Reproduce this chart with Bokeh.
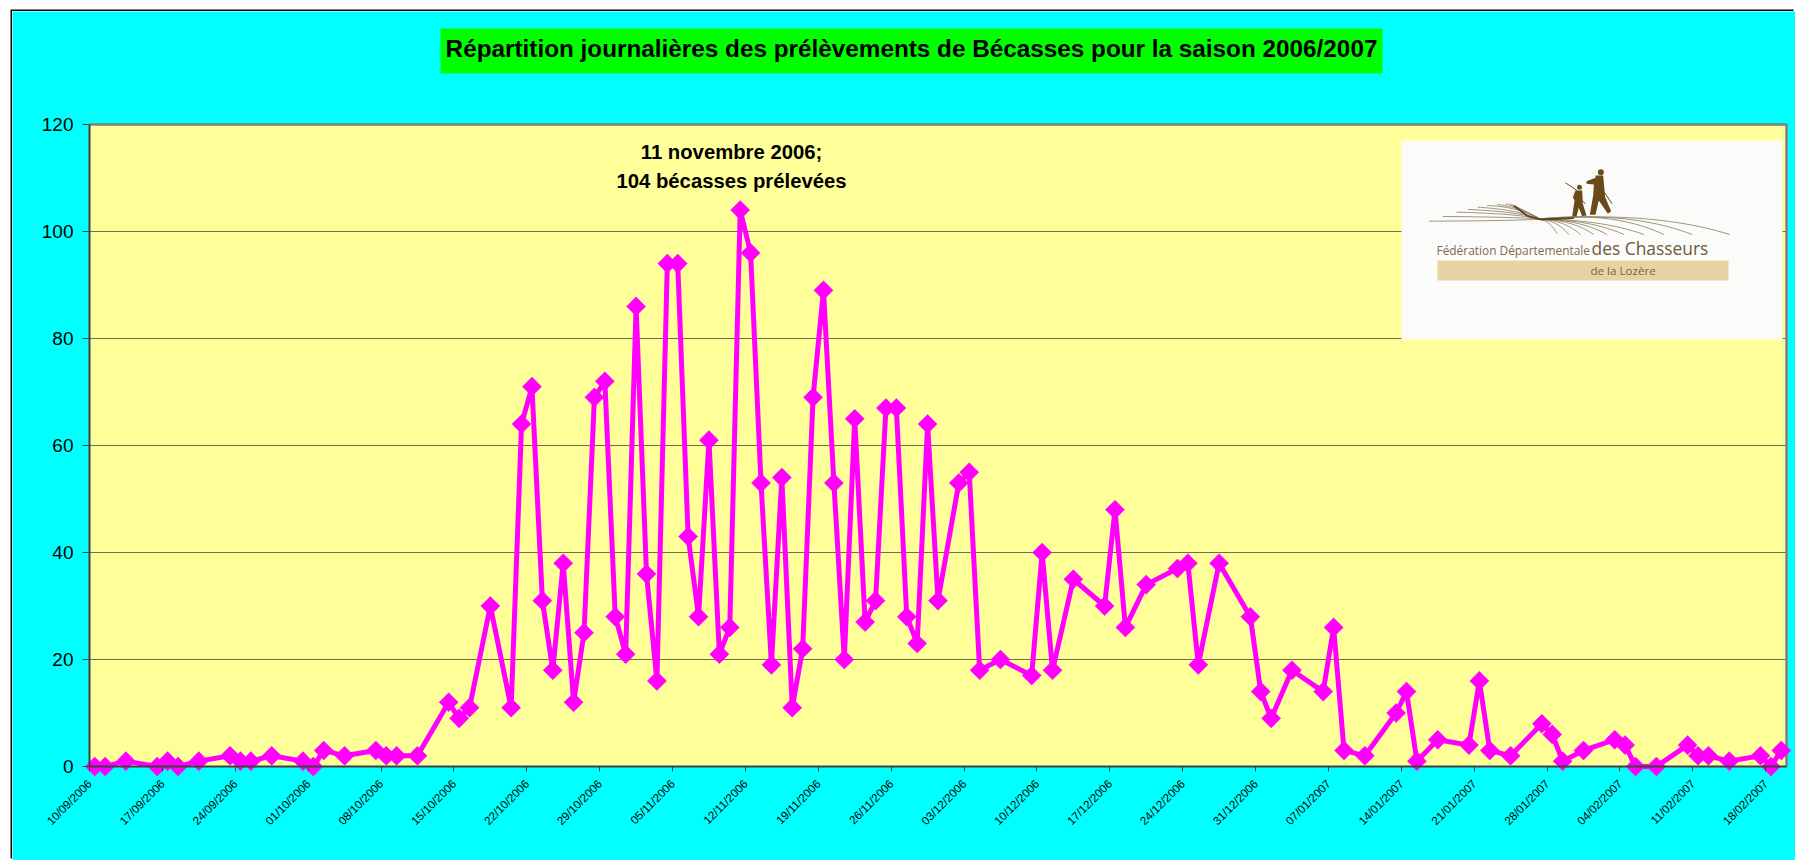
import math
import numpy as np
from bokeh.plotting import figure
from bokeh.models import (ColumnDataSource, FixedTicker, Label, Range1d)
from bokeh.embed import file_html
from bokeh.resources import INLINE

# ---- data ----
jours = [0,1,3,6,7,8,10,13,14,15,17,20,21,22,24,27,28,29,31,34,35,36,38,40,
         41,42,43,44,45,46,47,48,49,50,51,52,53,54,55,56,57,58,59,60,61,62,63,64,65,66,67,68,69,70,
         71,72,73,74,75,76,77,78,79,80,81,83,84,85,87,90,91,92,94,97,98,99,101,104,105,106,108,
         111,112,113,115,118,119,120,122,125,126,127,129,132,133,134,136,139,140,141,143,146,147,148,150,
         153,154,155,157,160,161,162]
prelevements = [0,0,1,0,1,0,1,2,1,1,2,1,0,3,2,3,2,2,2,12,9,11,30,11,
                64,71,31,18,38,12,25,69,72,28,21,86,36,16,94,94,43,28,61,21,26,104,96,53,19,54,11,22,69,89,
                53,20,65,27,31,67,67,28,23,64,31,53,55,18,20,17,40,18,35,30,48,26,34,37,38,19,38,
                28,14,9,18,14,26,3,2,10,14,1,5,4,16,3,2,8,6,1,3,5,4,0,0,
                4,2,2,1,2,0,3]
tick_labels = ["10/09/2006","17/09/2006","24/09/2006","01/10/2006","08/10/2006","15/10/2006",
               "22/10/2006","29/10/2006","05/11/2006","12/11/2006","19/11/2006","26/11/2006",
               "03/12/2006","10/12/2006","17/12/2006","24/12/2006","31/12/2006","07/01/2007",
               "14/01/2007","21/01/2007","28/01/2007","04/02/2007","11/02/2007","18/02/2007"]
y_ticks = [0,20,40,60,80,100,120]
titre = "Répartition journalières des prélèvements de Bécasses pour la saison 2006/2007"
note = ["11 novembre 2006;", "104 bécasses prélevées"]
N_JOURS = 163
Y_MAX = 120
FONT = "Liberation Sans"

# ---- layout (page pixels) ----
L, R, T, B = 89, 1786, 124, 766      # the drawn plot area
OX, OY = 12, 11                      # where the cyan chart area starts
def X(px): return (px - L) / (R - L) * N_JOURS
def Y(py): return (B - py) / (B - T) * Y_MAX

# the frame fills the figure, so that markers and labels are not cut at the plot area
p = figure(width=1795-OX, height=860-OY, output_backend="svg", toolbar_location=None,
           x_range=Range1d(X(OX), X(1795)), y_range=Range1d(Y(860), Y(OY)),
           min_border_left=0, min_border_right=0, min_border_top=0, min_border_bottom=0,
           background_fill_color="#00ffff", border_fill_color="#00ffff",
           outline_line_color=None)
p.margin = (OY, 0, 0, OX)
p.styles = {"box-shadow": "-1.5px -1.5px 0 0 #000000"}

# plot area, gridlines limited to it
p.quad(left=[0], right=[N_JOURS], top=[Y_MAX], bottom=[0], fill_color="#ffff99", line_alpha=0, level="image")
p.xgrid.visible = False
p.ygrid.visible = False
p.segment(x0=[0]*len(y_ticks), x1=[N_JOURS]*len(y_ticks), y0=y_ticks, y1=y_ticks,
          line_color="#6e6e50", line_width=1, level="underlay")
p.multi_line([[0, N_JOURS, N_JOURS]], [[Y_MAX, Y_MAX, 0]], line_color="#808080", line_width=2.5, level="underlay")

xa = p.xaxis[0]
xt = [i*7 for i in range(len(tick_labels))]
xa.ticker = FixedTicker(ticks=xt)
xa.fixed_location = 0
xa.bounds = (0, N_JOURS)
xa.major_label_overrides = {t: s for t, s in zip(xt, tick_labels)}
xa.major_label_orientation = math.pi/4
xa.major_label_text_font = FONT
xa.major_label_text_font_size = "11.6px"
xa.major_label_text_color = "#000000"
xa.axis_line_color = "#404040"; xa.axis_line_width = 2
xa.major_tick_line_color = "#404040"; xa.major_tick_in = 0; xa.major_tick_out = 5
xa.minor_tick_line_color = None
xa.major_label_standoff = 10

ya = p.yaxis[0]
ya.ticker = FixedTicker(ticks=y_ticks)
ya.fixed_location = 0
ya.bounds = (0, Y_MAX)
ya.major_label_text_font = FONT
ya.major_label_text_font_size = "19px"
ya.major_label_text_color = "#000000"
ya.axis_line_color = "#404040"; ya.axis_line_width = 2
ya.major_tick_line_color = "#404040"; ya.major_tick_in = 0; ya.major_tick_out = 7
ya.minor_tick_line_color = None
ya.major_label_standoff = 9

# title on its green box
p.quad(left=[X(440)], right=[X(1382)], top=[Y(28)], bottom=[Y(73)], fill_color="#00ff00", line_alpha=0, level="underlay")
p.add_layout(Label(x=X(911), y=Y(47.5), text=titre, text_font=FONT, text_font_size="24.3px",
                   text_font_style="bold", text_color="#000000", text_align="center",
                   text_baseline="middle"))
for s, py in zip(note, (151, 180)):
    p.add_layout(Label(x=X(731), y=Y(py), text=s, text_font=FONT, text_font_size="20.3px",
                       text_font_style="bold", text_color="#000000", text_align="center",
                       text_baseline="middle"))

# logo
LX, LY = 1380, 120
def lx(v): return X(LX + np.asarray(v, dtype=float)/3)
def ly(v): return Y(LY + np.asarray(v, dtype=float)/3)
p.quad(left=[X(1401)], right=[X(1782)], top=[Y(140)], bottom=[Y(339)], fill_color="#fbfbfa", line_alpha=0)
p.quad(left=[X(1437)], right=[X(1728)], top=[Y(260)], bottom=[Y(280)], fill_color="#e8d3a4", line_alpha=0)
brun = "#8a7a5c"
def courbe(a, c, b, n=24):
    t = np.linspace(0, 1, n)
    return ((1-t)**2*a[0]+2*t*(1-t)*c[0]+t**2*b[0], (1-t)**2*a[1]+2*t*(1-t)*c[1]+t**2*b[1])
xs, ys = [], []
for a in [(145,302),(187,288),(228,275),(262,267),(292,260),(320,255),(350,252),(375,250),(388,250)]:
    cx, cy = courbe(a, (410, a[1]+(296-a[1])*0.2 if a[0] < 300 else 258), (480,296))
    xs.append(lx(cx)); ys.append(ly(cy))
for b in [(1048,342),(935,342),(850,342),(790,342),(730,342),(680,342),(640,342),(600,342),(565,342),(530,340)]:
    cx, cy = courbe((470,296), ((470+b[0])/2+(b[0]-470)*0.1, 270 if b[0] > 800 else 296), b)
    xs.append(lx(cx)); ys.append(ly(cy))
p.multi_line(xs, ys, line_color=brun, line_width=0.8)
p.line(lx([400,440,480,580]), ly([256,286,297,293]), line_color="#5f4316", line_width=1.8)
hunters = [
    [645,668,674,692,682,655,645,628,638,640,618,618,645],
    [165,165,230,272,280,240,283,283,225,192,190,182,172]]
kid = [[585,605,607,618,605,595,588,575,582,577],[210,210,250,285,287,262,288,288,240,230]]
p.patches([lx(hunters[0]), lx(kid[0])], [ly(hunters[1]), ly(kid[1])], fill_color="#6b4a1a", line_alpha=0)
p.scatter(lx([661,597]), ly([155,200]), size=[6,5], marker="circle", fill_color="#6b4a1a", line_alpha=0)
p.multi_line([lx([555,590]), lx([600,615]), lx([668,695])], [ly([187,210]), ly([235,250]), ly([210,250])],
             line_color="#6b4a1a", line_width=1)
for s, px, py, sz, col in [("Fédération Départementale", 1436, 249, "11.9px", "#7d6a4e"),
                           ("des Chasseurs", 1591, 247, "17.4px", "#6f5a3c"),
                           ("de la Lozère", 1590, 270, "11.6px", "#7d6240")]:
    p.add_layout(Label(x=X(px), y=Y(py), text=s, text_font="Open Sans", text_font_size=sz,
                       text_color=col, text_align="left", text_baseline="middle"))

# series
src = ColumnDataSource(dict(x=[d + 0.5 for d in jours], y=prelevements))
p.line("x", "y", source=src, line_color="#ff00ff", line_width=5, line_join="round")
p.scatter("x", "y", source=src, marker="square", angle=math.pi/4, size=13.5,
          fill_color="#ff00ff", line_color="#ff00ff", line_width=0.5)

open("out.html", "w").write(file_html(p, INLINE))
